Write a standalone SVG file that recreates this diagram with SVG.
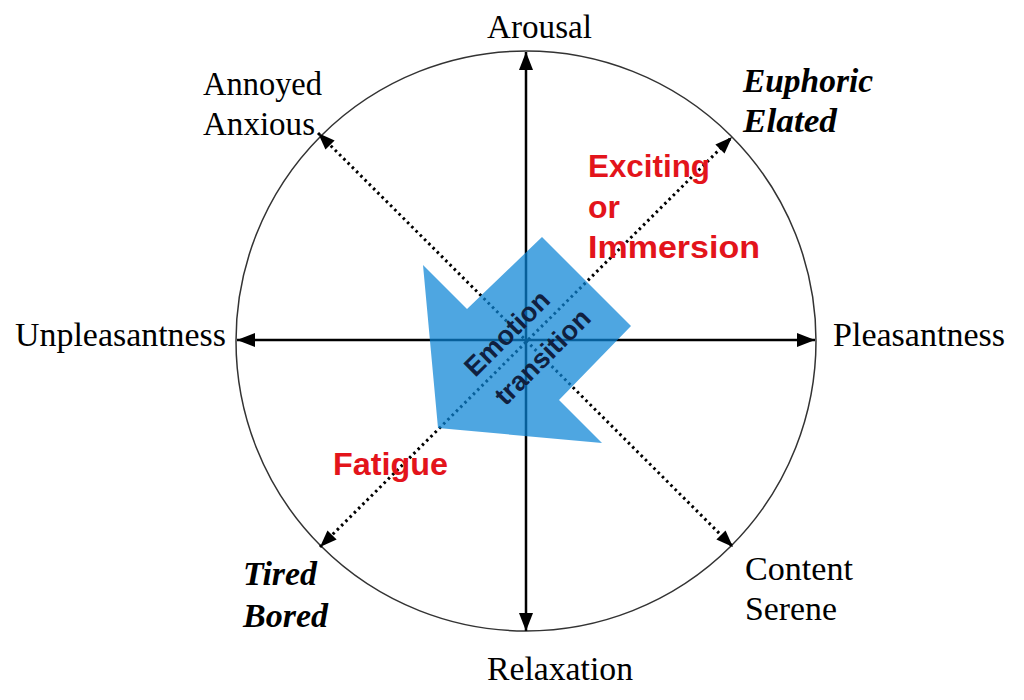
<svg xmlns="http://www.w3.org/2000/svg" width="1024" height="700" viewBox="0 0 1024 700">
  <style>
    .lbl { font-family: "Liberation Serif", "Times New Roman", serif; font-size: 33px; fill: #000; }
    .bi { font-weight: bold; font-style: italic; }
    .red { font-family: "Liberation Sans", Arial, sans-serif; font-weight: bold; font-size: 31px; fill: #e3141b; }
    .emo { font-family: "Liberation Sans", Arial, sans-serif; font-weight: bold; font-size: 27px; fill: #10203f; }
    .axis { stroke: #000; stroke-width: 2.5; fill: none; }
    .dot { stroke: #000; stroke-width: 3; stroke-dasharray: 2.5 3.5; fill: none; }
  </style>
  <defs>
    <marker id="solidHead" viewBox="0 0 18 14" refX="18" refY="7" markerWidth="18" markerHeight="14" markerUnits="userSpaceOnUse" orient="auto-start-reverse">
      <path d="M0,0 L18,7 L0,14 z" fill="#000"/>
    </marker>
    <marker id="dotHead" viewBox="0 0 17 13" refX="17" refY="6.5" markerWidth="17" markerHeight="13" markerUnits="userSpaceOnUse" orient="auto-start-reverse">
      <path d="M0,0 L17,6.5 L0,13 z" fill="#000"/>
    </marker>
  </defs>
  <rect width="1024" height="700" fill="#fff"/>
  <g id="circle">
    <circle cx="526" cy="341" r="290" fill="none" stroke="#333" stroke-width="1.5"/>
  </g>
  <g id="connectors">
    <line class="axis" x1="526" y1="52" x2="526" y2="631" marker-start="url(#solidHead)" marker-end="url(#solidHead)"/>
    <line class="axis" x1="237" y1="340" x2="815" y2="340" marker-start="url(#solidHead)" marker-end="url(#solidHead)"/>
    <line class="dot" x1="320" y1="547" x2="732" y2="137" marker-start="url(#dotHead)" marker-end="url(#dotHead)"/>
    <line class="dot" x1="318" y1="133" x2="733" y2="547" marker-start="url(#dotHead)" marker-end="url(#dotHead)"/>
  </g>
  <g id="emotion-arrow">
    <polygon points="438,428 423,265 467,309 542,237 631,326 559,400 602,443" fill="#0a84d6" fill-opacity="0.72"/>
    <text class="emo" text-anchor="middle" transform="translate(507,333.5) rotate(-45)" y="9">Emotion</text>
    <text class="emo" text-anchor="middle" transform="translate(542.5,357) rotate(-45)" y="9">transition</text>
  </g>
  <g id="arousal"><text class="lbl" x="487" y="38" textLength="105" lengthAdjust="spacingAndGlyphs">Arousal</text></g>
  <g id="relaxation"><text class="lbl" x="487" y="680" textLength="146" lengthAdjust="spacingAndGlyphs">Relaxation</text></g>
  <g id="unpleasantness"><text class="lbl" x="15" y="346" textLength="211" lengthAdjust="spacingAndGlyphs">Unpleasantness</text></g>
  <g id="pleasantness"><text class="lbl" x="833" y="346" textLength="172" lengthAdjust="spacingAndGlyphs">Pleasantness</text></g>
  <g id="annoyed">
    <text class="lbl" x="203" y="95" textLength="119" lengthAdjust="spacingAndGlyphs">Annoyed</text>
    <text class="lbl" x="203" y="135" textLength="112" lengthAdjust="spacingAndGlyphs">Anxious</text>
  </g>
  <g id="euphoric">
    <text class="lbl bi" x="743" y="92" textLength="130" lengthAdjust="spacingAndGlyphs">Euphoric</text>
    <text class="lbl bi" x="743" y="132" textLength="94" lengthAdjust="spacingAndGlyphs">Elated</text>
  </g>
  <g id="tired">
    <text class="lbl bi" x="243" y="585" textLength="74" lengthAdjust="spacingAndGlyphs">Tired</text>
    <text class="lbl bi" x="243" y="627" textLength="85" lengthAdjust="spacingAndGlyphs">Bored</text>
  </g>
  <g id="content">
    <text class="lbl" x="745" y="580" textLength="108" lengthAdjust="spacingAndGlyphs">Content</text>
    <text class="lbl" x="745" y="620" textLength="92" lengthAdjust="spacingAndGlyphs">Serene</text>
  </g>
  <g id="exciting">
    <text class="red" x="588" y="177" textLength="122" lengthAdjust="spacingAndGlyphs">Exciting</text>
    <text class="red" x="588" y="218" textLength="32" lengthAdjust="spacingAndGlyphs">or</text>
    <text class="red" x="588" y="258" textLength="172" lengthAdjust="spacingAndGlyphs">Immersion</text>
  </g>
  <g id="fatigue"><text class="red" x="333" y="475" textLength="115" lengthAdjust="spacingAndGlyphs">Fatigue</text></g>
</svg>
